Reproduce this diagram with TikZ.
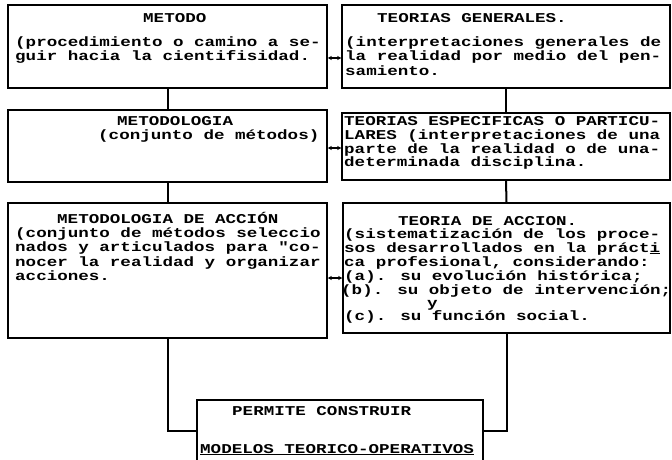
\documentclass[tikz,border=0pt]{standalone}
\usepackage{fontspec}
\usetikzlibrary{arrows.meta}
\newfontfamily\tw[FakeStretch=1.3]{Liberation Mono}
\begin{document}
\begin{tikzpicture}[x=1pt,y=-1pt,
  box/.style={draw, line width=1.5pt, inner sep=0pt},
  open/.style={inner sep=0pt},
  link/.style={line width=2pt},
  txt/.style={anchor=base west, inner sep=0pt, font=\tw\bfseries\fontsize{13.5}{14}\selectfont},
  dbl/.style={{Stealth[length=4pt,width=4pt]}-{Stealth[length=4pt,width=4pt]}, line width=1.3pt}]
\useasboundingbox (0,0) rectangle (672,460);
% boxes
\node[box, minimum width=319pt, minimum height=83pt] (m1) at (167.5,46.5) {};
\node[box, minimum width=328pt, minimum height=83pt] (t1) at (506,46.5) {};
\node[box, minimum width=319pt, minimum height=72pt] (m2) at (167.5,146) {};
\node[box, minimum width=328pt, minimum height=67pt] (t2) at (506,146.5) {};
\node[box, minimum width=319pt, minimum height=135pt] (m3) at (167.5,270.5) {};
\node[box, minimum width=327pt, minimum height=130pt] (t3) at (506.5,268) {};
\node[open, minimum width=286pt, minimum height=61pt] (b) at (340,430.5) {};
\draw[line width=1.5pt] (b.south west) -- (b.north west) -- (b.north east) -- (b.south east);
% texts
\node[txt] (m1a) at (143,23) {METODO};
\node[txt] (m1b) at (15,47) {(procedimiento o camino a se-};
\node[txt] (m1c) at (15,61) {guir hacia la cientifisidad.};
\node[txt] (t1a) at (377,23) {TEORIAS GENERALES.};
\node[txt] (t1b) at (345,47) {(interpretaciones generales de};
\node[txt] (t1c) at (345,61) {la realidad por medio del pen-};
\node[txt] (t1d) at (345,75) {samiento.};
\node[txt] (m2a) at (117,125) {METODOLOGIA};
\node[txt] (m2b) at (98,139) {(conjunto de métodos)};
\node[txt] (t2a) at (344,125) {TEORIAS ESPECIFICAS O PARTICU-};
\node[txt] (t2b) at (344,139) {LARES (interpretaciones de una};
\node[txt] (t2c) at (344,153) {parte de la realidad o de una-};
\node[txt] (t2d) at (344,166) {determinada disciplina.};
\node[txt] (m3a) at (57,223) {METODOLOGIA DE ACCIÓN};
\node[txt] (m3b) at (15,237) {(conjunto de métodos seleccio};
\node[txt] (m3c) at (15,251) {nados y articulados para "co-};
\node[txt] (m3d) at (15,266) {nocer la realidad y organizar};
\node[txt] (m3e) at (15,280) {acciones.};
\node[txt] (t3a) at (398,225) {TEORIA DE ACCION.};
\node[txt] (t3b) at (344,238) {(sistematización de los proce-};
\node[txt] (t3c) at (344,252) {sos desarrollados en la práct\underline{i}};
\node[txt] (t3d) at (344,266) {ca profesional, considerando:};
\node[txt] (t3e) at (344,280) {(a). su evolución histórica;};
\node[txt] (t3f) at (341,294) {(b). su objeto de intervención;};
\node[txt] (t3g) at (427,307) {y};
\node[txt] (t3h) at (344,320) {(c). su función social.};
\node[txt] (ba) at (232,415) {PERMITE CONSTRUIR};
\node[txt] (bb) at (200,453) {\underline{MODELOS TEORICO-OPERATIVOS}};
% connectors
\draw[link] (m1.south) -- (m2.north);
\draw[link] (m2.south) -- (m3.north);
\draw[link] (t1.south) -- (t2.north);
\draw[link] (t2.south) -- (t3.north);
\draw[link] (m3.south) |- (b.west);
\draw[link] (t3.south) |- (b.east);
\draw[dbl] (m1.east |- 0,58) -- (t1.west |- 0,58);
\draw[dbl] (m2.east |- 0,148) -- (t2.west |- 0,148);
\draw[dbl] (m3.east |- 0,278) -- (t3.west |- 0,278);
\end{tikzpicture}
\end{document}
